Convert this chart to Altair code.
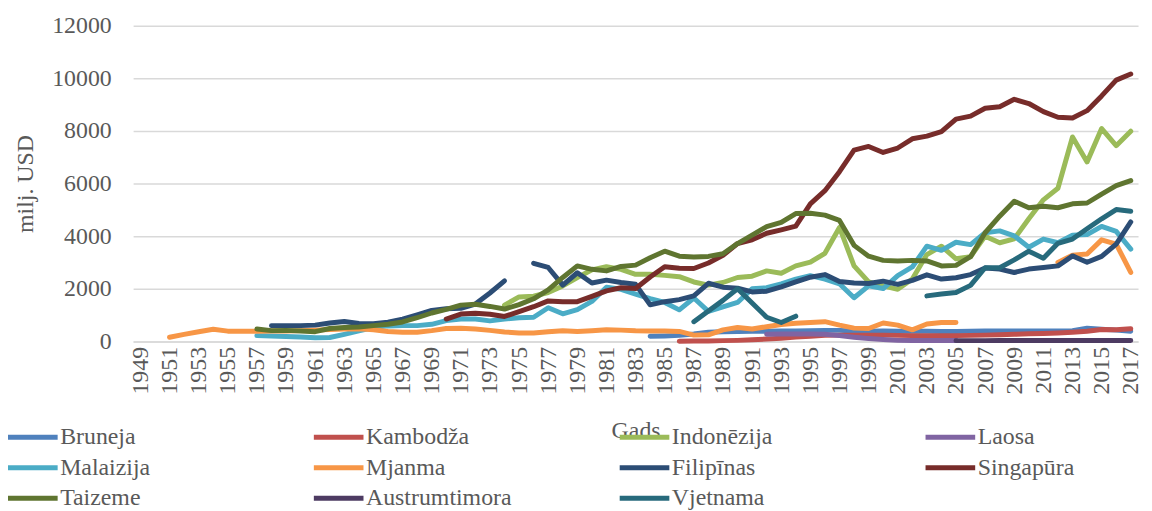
import altair as alt
import pandas as pd

# ---- data (milj. USD) ----
series_names = ["Bruneja", "Kambodža", "Indonēzija", "Laosa", "Malaizija", "Mjanma",
                "Filipīnas", "Singapūra", "Taizeme", "Austrumtimora", "Vjetnama"]
series_colors = ["#4F81BD", "#C0504D", "#9BBB59", "#8064A2", "#4BACC6", "#F79646",
                 "#2C4D75", "#772C2A", "#5F7530", "#4D3B62", "#276A7C"]

year_ticks = list(range(1949, 2018, 2))
value_ticks = [0, 2000, 4000, 6000, 8000, 10000, 12000]

bruneja_start = 1984
bruneja = [200, 210, 230, 280, 350, 370, 380, 390, 390, 400,
           400, 410, 420, 420, 400, 390, 400, 390, 390, 390,
           380, 380, 390, 400, 400, 400, 400, 400, 400, 410,
           500, 460, 430, 390]

kambodza_start = 1986
kambodza = [10, 15, 20, 30, 40, 60, 90, 120, 170, 200,
            230, 240, 240, 240, 240, 230, 220, 220, 220, 220,
            230, 240, 250, 270, 290, 300, 320, 350, 390, 450,
            440, 480]

indonezija_start = 1974
indonezija = [1380, 1690, 1720, 1860, 2110, 2430, 2720, 2840, 2740, 2550,
              2550, 2510, 2460, 2260, 2140, 2240, 2430, 2480, 2680, 2590,
              2870, 3010, 3350, 4330, 2870, 2260, 2110, 1980, 2370, 3300,
              3620, 3140, 3220, 4000, 3750, 3900, 4660, 5380, 5820, 7770,
              6820, 8090, 7440, 7990]

laosa_start = 1992
laosa = [270, 280, 280, 280, 270, 220, 160, 110, 70, 40, 35, 35, 35, 35]

malaizija_start = 1957
malaizija = [220, 210, 190, 170, 140, 150, 270, 400, 530, 590,
             600, 600, 650, 790, 850, 850, 780, 850, 900, 920,
             1280, 1050, 1210, 1520, 2060, 1980, 1800, 1630, 1480, 1200,
             1650, 1140, 1310, 1480, 2000, 2040, 2190, 2370, 2500, 2370,
             2190, 1660, 2110, 2010, 2500, 2830, 3620, 3460, 3770, 3680,
             4130, 4200, 4010, 3580, 3890, 3750, 4040, 4060, 4370, 4180,
             3510]

mjanma_start = 1951
mjanma = [160, 270, 370, 460, 390, 390, 390, 400, 400, 410,
          430, 450, 470, 480, 445, 380, 350, 350, 410, 490,
          500, 470, 420, 360, 320, 320, 370, 405, 380, 405,
          440, 430, 405, 400, 400, 380, 240, 250, 440, 530,
          470, 560, 640, 690, 720, 750, 620, 505, 490, 700,
          620, 440, 660, 720, 720, None, None, None, None, None,
          None, 3000, 3280, 3320, 3860, 3700, 2620]

filipinas_start = 1958
filipinas = [600, 600, 600, 620, 700, 760, 680, 670, 730, 850,
             1010, 1180, 1240, 1260, 1420, 1840, 2300, None, 2970, 2810,
             2140, 2610, 2220, 2330, 2240, 2170, 1390, 1510, 1590, 1730,
             2210, 2060, 2020, 1880, 1910, 2070, 2260, 2440, 2540, 2280,
             2220, 2200, 2290, 2170, 2320, 2530, 2370, 2420, 2540, 2790,
             2750, 2620, 2750, 2810, 2870, 3250, 3010, 3230, 3700, 4540]

singapura_start = 1970
singapura = [850, 1040, 1070, 1030, 950, 1130, 1320, 1540, 1510, 1510,
             1710, 1920, 2040, 2010, 2450, 2840, 2780, 2770, 2980, 3270,
             3720, 3860, 4110, 4240, 4380, 5230, 5730, 6450, 7270, 7410,
             7180, 7350, 7700, 7800, 7970, 8450, 8560, 8860, 8920, 9200,
             9040, 8730, 8520, 8490, 8770, 9330, 9930, 10160]

taizeme_start = 1957
taizeme = [470, 410, 420, 400, 370, 490, 530, 545, 600, 650,
           740, 900, 1080, 1220, 1380, 1410, 1330, 1230, 1400, 1620,
           1960, 2430, 2870, 2740, 2680, 2850, 2900, 3180, 3430, 3240,
           3210, 3230, 3330, 3720, 4040, 4360, 4520, 4860, 4870, 4800,
           4600, 3650, 3240, 3080, 3060, 3080, 3060, 2870, 2890, 3220,
           4130, 4760, 5330, 5080, 5140, 5080, 5230, 5260, 5600, 5920,
           6110]

austrumtimora_start = 2005
austrumtimora = [30, 30, 30, 35, 35, 35, 35, 35, 35, 35, 35, 35, 35]

vjetnama_start = 1987
vjetnama = [750, 1160, 1560, 2000, 1460, 920, 720, 960, None, None,
            None, None, None, None, None, None, 1730, 1800, 1860, 2130,
            2800, 2800, 3100, 3430, 3160, 3730, 3890, 4280, 4660, 5010,
            4950]

series_data = [
    (bruneja_start, bruneja), (kambodza_start, kambodza),
    (indonezija_start, indonezija), (laosa_start, laosa),
    (malaizija_start, malaizija), (mjanma_start, mjanma),
    (filipinas_start, filipinas), (singapura_start, singapura),
    (taizeme_start, taizeme), (austrumtimora_start, austrumtimora),
    (vjetnama_start, vjetnama),
]

rows = []
for order, (name, (start, vals)) in enumerate(zip(series_names, series_data)):
    seg = 0
    for i, v in enumerate(vals):
        if v is None:
            seg += 1
            continue
        rows.append({"Valsts": name, "Gads": start + i, "Vertiba": v,
                     "seg": f"{order:02d}-{name}-{seg}", "ord": order})
df = pd.DataFrame(rows)

FONT = "Liberation Serif"
GRAY = "#595959"

chart = alt.Chart(df).mark_line(strokeWidth=5, strokeCap="round", strokeJoin="round").encode(
    x=alt.X("Gads:Q",
            scale=alt.Scale(domain=[1948.5, 2017.5], nice=False, zero=False),
            axis=alt.Axis(values=year_ticks, format="d", labelAngle=270, grid=False, ticks=False,
                          domainColor="#D9D9D9", domainWidth=1.5, labelPadding=5,
                          labelFont=FONT, labelFontSize=24, labelColor=GRAY,
                          title="Gads", titleFont=FONT, titleFontSize=24, titleFontWeight="normal",
                          titleColor=GRAY, titleX=506, titleY=90, titleAlign="center",
                          titleBaseline="middle")),
    y=alt.Y("Vertiba:Q",
            scale=alt.Scale(domain=[0, 12000], nice=False),
            axis=alt.Axis(values=value_ticks, format="d", grid=True, gridColor="#D9D9D9",
                          gridWidth=1.5, domain=False, ticks=False, labelPadding=22,
                          labelFont=FONT, labelFontSize=24, labelColor=GRAY,
                          title="milj. USD", titleFont=FONT, titleFontSize=24,
                          titleFontWeight="normal", titleColor=GRAY, titleAngle=270,
                          titleX=-108, titleY=159, titleAlign="center", titleBaseline="middle")),
    color=alt.Color("Valsts:N",
                    scale=alt.Scale(domain=series_names, range=series_colors),
                    legend=alt.Legend(orient="none", legendX=-128.5, legendY=402.5,
                                      direction="horizontal", columns=4,
                                      symbolType="stroke", symbolSize=2500,
                                      symbolStrokeWidth=5, clipHeight=24,
                                      labelFont=FONT, labelFontSize=24, labelColor=GRAY,
                                      labelFontWeight="normal",
                                      labelOffset=0, columnPadding=106, rowPadding=6.7,
                                      gridAlign="all", title=None, padding=0, labelLimit=300)),
    detail="seg:N",
    order="Gads:Q",
).properties(
    width=1012, height=318,
    autosize=alt.AutoSizeParams(type="none"),
    padding={"left": 126, "top": 16, "right": 6, "bottom": 169},
).configure(font=FONT).configure_legend(
    labelFont=FONT, labelFontSize=24, labelColor=GRAY
).configure_view(stroke=None)

chart.save("out.html", embed_options={"renderer": "svg", "actions": False})
